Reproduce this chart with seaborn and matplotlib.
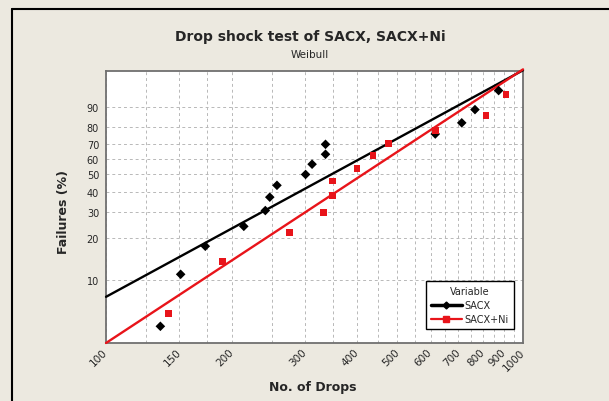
import numpy as np
import pandas as pd
import matplotlib
matplotlib.use('Agg')
import matplotlib.pyplot as plt
from matplotlib.lines import Line2D
from matplotlib.ticker import FixedLocator, FixedFormatter, NullFormatter
import seaborn as sns

# Data
sacx_drops = [135, 151, 173, 214, 241, 247, 257, 301, 312, 336, 336, 616, 713, 767, 874]
sacx_fail = [4.5, 11.0, 17.5, 24.0, 30.5, 37.0, 43.5, 50.0, 56.5, 63.0, 69.5, 76.0, 82.5, 89.0, 95.5]

ni_drops = [141, 190, 275, 333, 350, 350, 400, 437, 475, 616, 815, 910]
ni_fail = [5.6, 13.7, 21.8, 29.8, 37.9, 46.0, 54.0, 62.1, 70.2, 78.2, 86.3, 94.4]

# Fitted lines (end points at 100 and 1000 drops)
fit_drops = [100, 1000]
sacx_fit = [7.5, 98.84]
ni_fit = [3.36, 98.92]

x_ticks = [100, 150, 200, 300, 400, 500, 600, 700, 800, 900, 1000]
x_minor = [125, 175, 250, 350, 450, 550, 650, 750, 850, 950]
y_ticks = [10, 20, 30, 40, 50, 60, 70, 80, 90]

pts = pd.concat([
    pd.DataFrame({'drops': sacx_drops, 'fail': sacx_fail, 'Variable': 'SACX'}),
    pd.DataFrame({'drops': ni_drops, 'fail': ni_fail, 'Variable': 'SACX+Ni'}),
])
fits = pd.concat([
    pd.DataFrame({'drops': fit_drops, 'fail': sacx_fit, 'Variable': 'SACX'}),
    pd.DataFrame({'drops': fit_drops, 'fail': ni_fit, 'Variable': 'SACX+Ni'}),
])

colors = {'SACX': 'black', 'SACX+Ni': '#E8141A'}
markers = {'SACX': 'D', 'SACX+Ni': 's'}


def weib(p):
    p = np.clip(np.asarray(p, dtype=float), 1e-6, 100 - 1e-6)
    return np.log(-np.log(1 - p / 100.0))


def weib_inv(w):
    return 100.0 * (1 - np.exp(-np.exp(np.asarray(w, dtype=float))))


sns.set_style('white')
plt.rcParams['font.family'] = ['DejaVu Sans']

bg = '#ECE9E0'
fig = plt.figure(figsize=(6.09, 4.02), dpi=100, facecolor=bg)
ax = fig.add_axes([0.1741, 0.1443, 0.6847, 0.6766])
ax.set_facecolor('white')

sns.lineplot(data=fits, x='drops', y='fail', hue='Variable', palette=colors,
             linewidth=1.7, legend=False, ax=ax, clip_on=False, zorder=3)
sns.scatterplot(data=pts, x='drops', y='fail', hue='Variable', style='Variable',
                palette=colors, markers=markers, s=24, linewidth=0,
                legend=False, ax=ax, zorder=4)

ax.set_xscale('log')
ax.set_yscale('function', functions=(weib, weib_inv))
ax.set_xlim(100, 1000)
ax.set_ylim(3.36, 98.77)

ax.xaxis.set_major_locator(FixedLocator(x_ticks))
ax.xaxis.set_major_formatter(FixedFormatter([str(v) for v in x_ticks]))
ax.xaxis.set_minor_locator(FixedLocator(x_minor))
ax.xaxis.set_minor_formatter(NullFormatter())
ax.yaxis.set_major_locator(FixedLocator(y_ticks))
ax.yaxis.set_major_formatter(FixedFormatter([str(v) for v in y_ticks]))
ax.yaxis.set_minor_locator(FixedLocator([]))

ax.grid(True, which='both', color='#B8B8B8', linestyle=(0, (3, 3)), linewidth=0.7)
ax.set_axisbelow(True)
for s in ax.spines.values():
    s.set_color('#707070')
    s.set_linewidth(1.3)
ax.tick_params(axis='both', which='major', length=3, width=0.8, color='#707070',
               labelsize=7, pad=2)
ax.tick_params(axis='x', which='minor', length=0)
plt.setp(ax.get_xticklabels(), rotation=45, ha='right', va='center',
         rotation_mode='anchor', fontsize=7.5)
ax.set_xlabel('')
ax.set_ylabel('')

fig.text(0.509, 0.907, 'Drop shock test of SACX, SACX+Ni', ha='center', va='center',
         fontsize=10, fontweight='bold')
fig.text(0.509, 0.864, 'Weibull', ha='center', va='center', fontsize=7.5)
fig.text(0.105, 0.473, 'Failures (%)', ha='center', va='center', rotation=90,
         fontsize=9, fontweight='bold')
fig.text(0.514, 0.035, 'No. of Drops', ha='center', va='center',
         fontsize=9, fontweight='bold')

handles = [
    Line2D([], [], color='black', lw=2.5, marker='D', markersize=3.5, label='SACX'),
    Line2D([], [], color='#E8141A', lw=1.6, marker='s', markersize=4.5, label='SACX+Ni'),
]
leg = ax.legend(handles=handles, title='Variable', loc='lower right',
                bbox_to_anchor=(0.978, 0.0515), borderaxespad=0, fontsize=7,
                title_fontsize=7, frameon=True, fancybox=False, framealpha=1,
                edgecolor='black', handlelength=3.2, borderpad=0.5,
                labelspacing=0.4, handletextpad=0.3)
leg.get_frame().set_linewidth(1.0)

# frame of the graph window: only the top and left edges are in view
fx = 12 / 609
fy = 1 - 9.5 / 402
fig.add_artist(Line2D([fx, 1.0], [fy, fy], transform=fig.transFigure,
                      color='black', linewidth=1.5))
fig.add_artist(Line2D([fx, fx], [0.0, fy], transform=fig.transFigure,
                      color='black', linewidth=1.5))

fig.savefig('out.png', dpi=100, facecolor=bg)
plt.close(fig)
